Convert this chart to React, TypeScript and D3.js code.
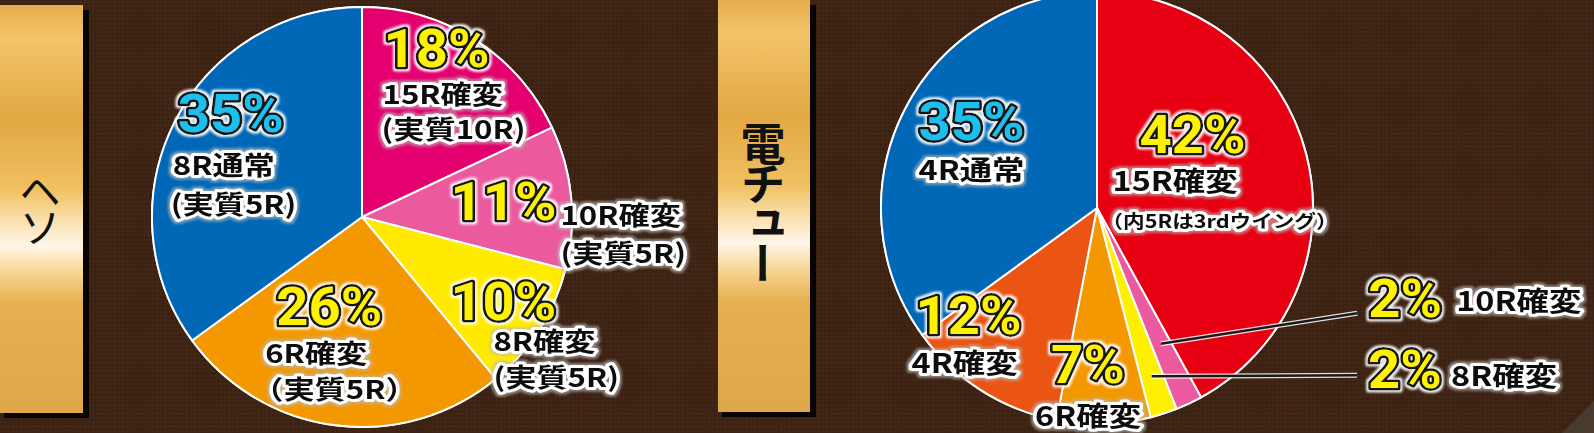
import React from "react";
import * as d3 from "d3";

const W = 1594;
const H = 433;

// ヘソ入賞時の振り分け
const hesoRounds = ["15R確変", "10R確変", "8R確変", "6R確変", "8R通常"];
const hesoNotes = ["(実質10R)", "(実質5R)", "(実質5R)", "（実質5R）", "(実質5R)"];
const hesoShares = [18, 11, 10, 26, 35];

// 電チュー入賞時の振り分け
const denchuRounds = ["15R確変", "10R確変", "8R確変", "6R確変", "4R確変", "4R通常"];
const denchuNotes = ["（内5Rは3rdウイング）", "", "", "", "", ""];
const denchuShares = [42, 2, 2, 7, 12, 35];

const hesoTitle = "ヘソ";
const denchuTitle = "電チュー";

// colours
const hesoColors = ["#e4006f", "#eb5a9e", "#ffea00", "#f39800", "#0068b7"];
const hesoPctColors = ["#fff200", "#fff200", "#fff200", "#fff200", "#1cc0ee"];
const denchuColors = ["#e60012", "#eb5a9e", "#fff000", "#f39800", "#ea5514", "#0068b7"];
const denchuPctColors = ["#fff200", "#fff200", "#fff200", "#fff200", "#fff200", "#1cc0ee"];

// label placement: pct = offset of the % text from the slice centroid,
// l1 / l2 = offsets of the two text lines from the % text
const hesoLayout = [
  { pct: [-46, -44], l1: [-1, 37], l2: [-2, 72] },
  { pct: [-37, 15], l1: [110, 5], l2: [110, 43] },
  { pct: [-18, 35], l1: [43, 31], l2: [43, 67] },
  { pct: [-70, -17], l1: [-11, 38], l2: [-24, 74] },
  { pct: [-72, -28], l1: [-5, 43], l2: [-7, 82] },
];
const denchuLayout = [
  { pct: [-83, -23], l1: [-27, 38], l2: [-38, 75] },
  { pct: [216, -8], l1: [88, -6], l2: [0, 0], leader: { r0: 150, end: [205, -12] } },
  { pct: [231, 57], l1: [83, -2], l2: [0, 0], leader: { r0: 177, end: [220, 44] } },
  { pct: [-50, 45], l1: [-16, 43], l2: [0, 0] },
  { pct: [-112, 17], l1: [-4, 39], l2: [0, 0] },
  { pct: [-63, -9], l1: [0, 40], l2: [0, 0] },
];

function Pct({ x, y, text, fill }: any) {
  return (
    <text
      transform={`translate(${x},${y}) scale(1.06,1)`}
      fontFamily="Roboto, 'Noto Sans CJK JP', sans-serif"
      fontWeight={700}
      fontSize={53}
      strokeLinejoin="round"
      stroke="#161616"
      strokeWidth={5}
      fill={fill}
      filter="url(#glowW)"
      style={{ paintOrder: "stroke" }}
    >
      {text}
    </text>
  );
}

function Label({ x, y, text, size }: any) {
  if (!text) return null;
  return (
    <text
      transform={`translate(${x},${y}) scale(1.2,1)`}
      fontFamily="'Noto Sans CJK JP', sans-serif"
      fontWeight={700}
      fontSize={size}
      strokeLinejoin="round"
      stroke="#fff"
      strokeWidth={6}
      fill="#111"
      filter="url(#glowG)"
      style={{ paintOrder: "stroke" }}
    >
      {text}
    </text>
  );
}

function Pie({ cx, cy, r, shares, rounds, notes, colors, pctColors, layout, size, noteSize }: any) {
  const pie = d3.pie<number>().sort(null).value((d) => d)(shares);
  const arc = d3.arc<any>().innerRadius(0).outerRadius(r);
  const labelArc = d3.arc<any>().innerRadius(r * 0.6).outerRadius(r * 0.6);
  return (
    <g transform={`translate(${cx},${cy})`}>
      <circle r={r + 1} fill="#fff" />
      {pie.map((p, i) => (
        <path key={i} d={arc(p) as string} fill={colors[i]} stroke="#fff" strokeWidth={2} />
      ))}
      {pie.map((p, i) => {
        const L = layout[i];
        if (!L.leader) return null;
        const [c0, c1] = labelArc.centroid(p);
        const mid = (p.startAngle + p.endAngle) / 2;
        const sx = Math.sin(mid) * L.leader.r0;
        const sy = -Math.cos(mid) * L.leader.r0;
        const ex = c0 + L.leader.end[0];
        const ey = c1 + L.leader.end[1];
        return (
          <g key={"ld" + i}>
            <line x1={sx} y1={sy} x2={ex} y2={ey} stroke="#fff" strokeWidth={5} opacity={0.85} />
            <line x1={sx} y1={sy} x2={ex} y2={ey} stroke="#1a1a1a" strokeWidth={2.5} />
          </g>
        );
      })}
      {pie.map((p, i) => {
        const L = layout[i];
        const [c0, c1] = labelArc.centroid(p);
        const px = c0 + L.pct[0];
        const py = c1 + L.pct[1];
        return (
          <g key={"lb" + i}>
            <Pct x={px} y={py} text={`${shares[i]}%`} fill={pctColors[i]} />
            <Label x={px + L.l1[0]} y={py + L.l1[1]} text={rounds[i]} size={size} />
            <Label x={px + L.l2[0]} y={py + L.l2[1]} text={notes[i]} size={noteSize[i] || size} />
          </g>
        );
      })}
    </g>
  );
}

function GoldBar({ x, y, w, h, id }: any) {
  return (
    <g>
      <rect x={x + 4} y={y + 5} width={w + 2} height={h} fill="#080402" />
      <rect x={x} y={y} width={w} height={h} fill={`url(#${id})`} />
    </g>
  );
}

function Gradient({ id }: any) {
  return (
    <linearGradient id={id} x1="0" y1="0" x2="0" y2="1">
      <stop offset="0" stopColor="#e5ad4c" />
      <stop offset="0.08" stopColor="#f3c46a" />
      <stop offset="0.28" stopColor="#e2a843" />
      <stop offset="0.45" stopColor="#f0c061" />
      <stop offset="0.53" stopColor="#fbe1b0" />
      <stop offset="0.59" stopColor="#fff6e8" />
      <stop offset="0.65" stopColor="#f8d898" />
      <stop offset="0.73" stopColor="#e6b050" />
      <stop offset="1" stopColor="#dea84a" />
    </linearGradient>
  );
}

export default function App() {
  return (
    <svg
      width={W}
      height={H}
      style={{ position: "absolute", left: 0, top: 0, display: "block" }}
    >
      <defs>
        <pattern id="bg" width="6" height="6" patternUnits="userSpaceOnUse" patternTransform="rotate(45)">
          <rect width="6" height="6" fill="#3a2112" />
          <rect width="3" height="3" fill="#432716" />
          <rect x="3" y="3" width="3" height="3" fill="#432716" />
        </pattern>
        <filter id="glowW" x="-20%" y="-30%" width="140%" height="160%">
          <feMorphology in="SourceAlpha" operator="dilate" radius="2.2" result="d" />
          <feGaussianBlur in="d" stdDeviation="0.8" result="b" />
          <feFlood floodColor="#fff" floodOpacity="0.92" />
          <feComposite in2="b" operator="in" result="w" />
          <feMerge>
            <feMergeNode in="w" />
            <feMergeNode in="SourceGraphic" />
          </feMerge>
        </filter>
        <filter id="glowG" x="-20%" y="-30%" width="140%" height="160%">
          <feMorphology in="SourceAlpha" operator="dilate" radius="1.5" result="d" />
          <feGaussianBlur in="d" stdDeviation="1" result="b" />
          <feFlood floodColor="#bbb" floodOpacity="0.6" />
          <feComposite in2="b" operator="in" result="w" />
          <feMerge>
            <feMergeNode in="w" />
            <feMergeNode in="SourceGraphic" />
          </feMerge>
        </filter>
        <Gradient id="gold1" />
        <Gradient id="gold2" />
      </defs>
      <rect width={W} height={H} fill="url(#bg)" />
      <polygon points={`1562,${H} ${W},401 ${W},${H}`} fill="#4a3b31" />

      <GoldBar x={0} y={5} w={83} h={408} id="gold1" />
      <GoldBar x={718} y={0} w={92} h={412} id="gold2" />

      <g fontFamily="'Noto Sans CJK JP', sans-serif" fill="#111">
        <text
          x={40}
          y={170}
          fontSize={42}
          fontWeight={400}
          letterSpacing={-6}
          style={{ writingMode: "vertical-rl" }}
        >
          {hesoTitle}
        </text>
        <text
          x={763}
          y={121}
          fontSize={45}
          fontWeight={700}
          letterSpacing={-5}
          style={{ writingMode: "vertical-rl" }}
        >
          {denchuTitle}
        </text>
      </g>

      <Pie
        cx={362}
        cy={217}
        r={210}
        shares={hesoShares}
        rounds={hesoRounds}
        notes={hesoNotes}
        colors={hesoColors}
        pctColors={hesoPctColors}
        layout={hesoLayout}
        size={26}
        noteSize={[]}
      />
      <Pie
        cx={1097}
        cy={208}
        r={216}
        shares={denchuShares}
        rounds={denchuRounds}
        notes={denchuNotes}
        colors={denchuColors}
        pctColors={denchuPctColors}
        layout={denchuLayout}
        size={27}
        noteSize={[18]}
      />
    </svg>
  );
}
